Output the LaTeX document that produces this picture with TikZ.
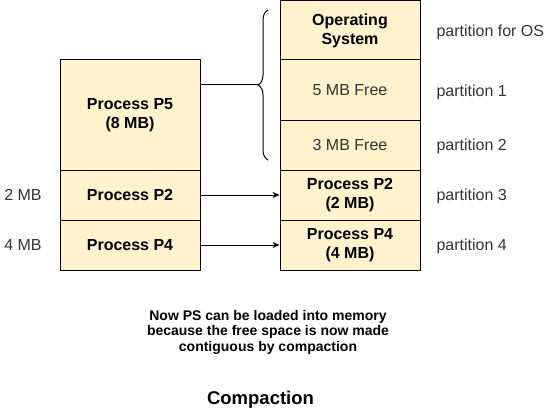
\documentclass[tikz,border=0pt]{standalone}
\usepackage{fontspec}
\setmainfont{Liberation Sans}
\usetikzlibrary{arrows.meta,decorations.pathreplacing}
\definecolor{memfill}{HTML}{FFF2CC}
\definecolor{labelgray}{HTML}{333333}

\begin{document}
\begin{tikzpicture}[x=1pt,y=-1pt,line width=1pt,
  mem/.style={draw,fill=memfill,minimum width=140pt,inner sep=0pt,align=center,font=\fontsize{16}{19}\selectfont\bfseries},
  freemem/.style={mem,text=labelgray,font=\fontsize{16}{19}\selectfont},
  side/.style={inner sep=0pt,text=labelgray,font=\fontsize{16}{19}\selectfont},
  move/.style={-{Stealth[length=7pt,width=6pt]}}]
\path[use as bounding box] (0,0) rectangle (549,412);
% memory before compaction
\node[mem,minimum height=110pt] (p5) at (130,115) {Process P5\\(8 MB)};
\node[mem,minimum height=50pt] (p2) at (130,195) {Process P2};
\node[mem,minimum height=50pt] (p4) at (130,245) {Process P4};
\node[side] (s2) at (23,195) {2 MB};
\node[side] (s4) at (23,245) {4 MB};
% memory after compaction
\node[mem,minimum height=59pt] (os) at (350,30.5) {Operating\\System};
\node[freemem,minimum height=60pt] (f5) at (350,90) {5 MB Free};
\node[freemem,minimum height=50pt] (f3) at (350,145) {3 MB Free};
\node[mem,minimum height=50pt] (q2) at (350,195) {Process P2\\(2 MB)};
\node[mem,minimum height=50pt] (q4) at (350,245) {Process P4\\(4 MB)};
\node[side,anchor=west] (los) at (436,32) {partition for OS};
\node[side,anchor=west] (l1) at (436,92) {partition 1};
\node[side,anchor=west] (l2) at (436,146) {partition 2};
\node[side,anchor=west] (l3) at (436,196) {partition 3};
\node[side,anchor=west] (l4) at (436,246) {partition 4};
% brace and moves
\draw[decorate,decoration={brace,amplitude=10pt}] (268,160) -- (268,10);
\coordinate (bracetip) at (258,85);
\draw (p5.east |- bracetip) -- (bracetip);
\draw[move] (p2) -- (q2);
\draw[move] (p4) -- (q4);
% notes
\node[align=center,inner sep=0pt,font=\fontsize{14}{15.5}\selectfont\bfseries] (note) at (268,332) {Now PS can be loaded into memory\\because the free space is now made\\contiguous by compaction};
\node[inner sep=0pt,font=\fontsize{18.5}{22}\selectfont\bfseries] (title) at (260.5,400) {Compaction};
\end{tikzpicture}
\end{document}
